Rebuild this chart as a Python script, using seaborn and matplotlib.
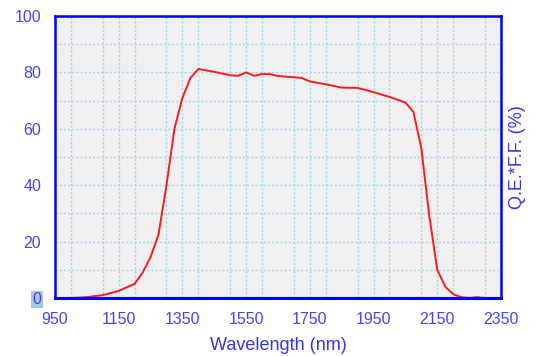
import matplotlib
matplotlib.use("Agg")
import matplotlib.pyplot as plt
import seaborn as sns
import pandas as pd
from matplotlib.ticker import MultipleLocator

wavelength = [950, 1000, 1050, 1100, 1150, 1200, 1225, 1250, 1275, 1300, 1325, 1350,
              1375, 1400, 1450, 1500, 1525, 1550, 1575, 1600, 1625, 1650, 1700, 1725,
              1750, 1800, 1850, 1900, 1950, 2000, 2050, 2075, 2100, 2125, 2150, 2175,
              2200, 2225, 2250, 2275, 2300, 2350]
qe_ff = [0, 0, 0.3, 1, 2.5, 5, 9, 14.5, 22.5, 40, 60, 71,
         78, 81.2, 80.2, 79, 78.8, 80, 78.8, 79.4, 79.4, 78.7, 78.3, 78,
         76.8, 75.8, 74.6, 74.5, 73, 71.3, 69.3, 66, 53, 29, 10, 4,
         1.3, 0.3, 0, 0.3, 0, 0]
x_ticks = [950, 1150, 1350, 1550, 1750, 1950, 2150, 2350]
y_ticks = [0, 20, 40, 60, 80, 100]

df = pd.DataFrame({"Wavelength": wavelength, "QE": qe_ff})

sns.set_style("white")
plt.rcParams['font.family'] = ['Liberation Sans', 'DejaVu Sans']

fig = plt.figure(figsize=(5.52, 3.56), dpi=100)
ax = fig.add_axes([0.0996, 0.163, 0.808, 0.792])
ax.set_facecolor('#f0f0f0')

sns.lineplot(data=df, x="Wavelength", y="QE", ax=ax, color='#ff1a1a', linewidth=1.4, zorder=3)

ax.set_xlim(950, 2350)
ax.set_ylim(0, 100)
ax.set_xticks(x_ticks)
ax.set_yticks(y_ticks)
ax.xaxis.set_minor_locator(MultipleLocator(100))
ax.yaxis.set_minor_locator(MultipleLocator(10))
ax.grid(True, which='both', color='#9dd6ef', linestyle=(0, (1.5, 1.5)), linewidth=1.0, zorder=1)
ax.set_axisbelow(True)

tick_col = '#4444ff'
ax.tick_params(axis='both', which='both', length=0, labelsize=11.5, colors=tick_col)
ax.tick_params(axis='x', pad=10)
ax.tick_params(axis='y', pad=10)

for s in ax.spines.values():
    s.set_color('#0000ff')
    s.set_linewidth(1.8)
    s.set_visible(True)
    s.set_zorder(4)
ax.spines['bottom'].set_linewidth(2.2)

ax.set_xlabel("Wavelength (nm)", fontsize=13, color='#3333ff', labelpad=7)
ax.set_ylabel("Q.E.*F.F. (%)", fontsize=13, color='#3333ff', labelpad=6)
ax.yaxis.set_label_position('right')

fig.canvas.draw()
for lbl in ax.get_yticklabels():
    if lbl.get_text() == '0':
        lbl.set_bbox(dict(facecolor='#a9c9e2', edgecolor='none', pad=1))

fig.savefig("out.png", dpi=100, facecolor='white')
